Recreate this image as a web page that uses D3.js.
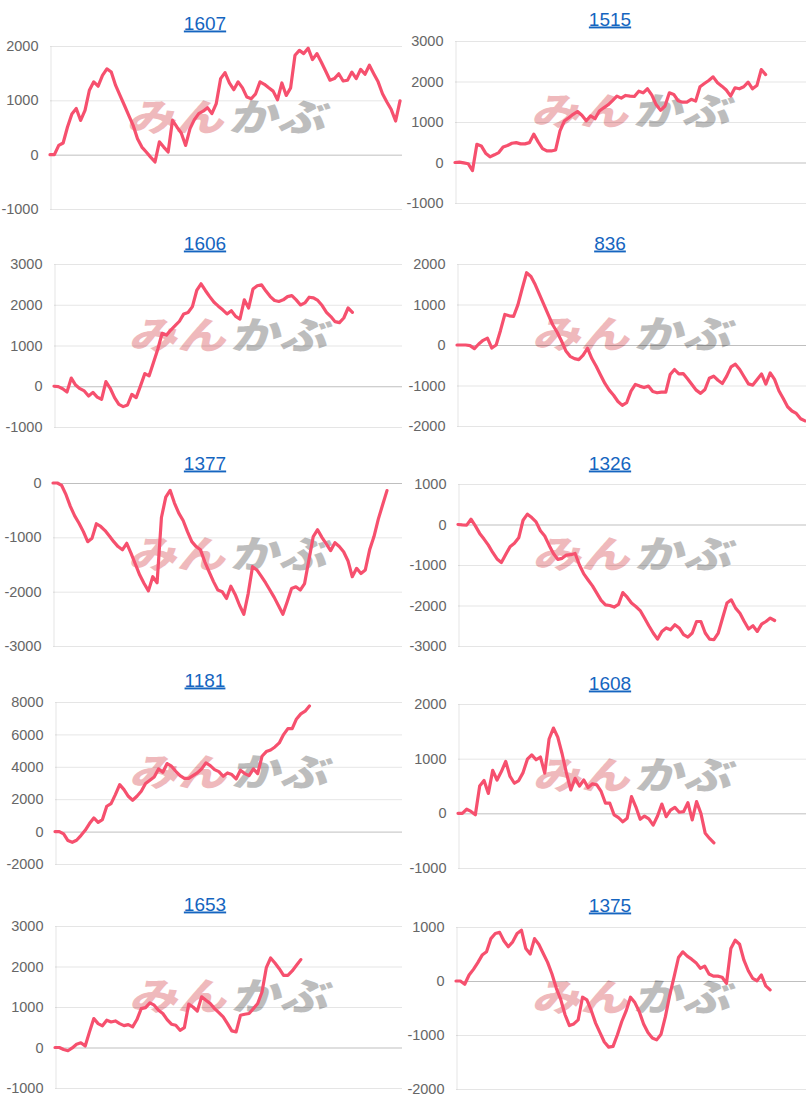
<!DOCTYPE html>
<html><head><meta charset="utf-8">
<script src="https://cdn.jsdelivr.net/npm/d3@7"></script>
<style>html,body{margin:0;padding:0;background:#fff;} svg{display:block}</style>
</head><body>
<svg id="c" width="806" height="1101"></svg>
<script>
// ---------- data ----------
const titles = ["1607","1515","1606","836","1377","1326","1181","1608","1653","1375"];
const xCount = 81; // number of day slots on the x axis

const s1607 = [0,0,170,215,510,750,850,630,815,1185,1340,1260,1460,1580,1520,1275,1090,910,725,540,295,140,50,-45,-135,235,140,50,630,510,400,170,480,645,755,800,865,755,940,1400,1510,1320,1195,1340,1230,1060,1030,1120,1340,1295,1230,1170,1010,1320,1090,1230,1830,1920,1860,1960,1750,1860,1705,1540,1370,1400,1490,1355,1370,1520,1400,1570,1480,1645,1490,1340,1120,970,830,620,990];
const s1515 = [0,10,-10,-30,-200,450,410,230,140,190,245,385,420,475,490,460,460,490,700,510,345,285,285,310,780,1025,1105,1190,1260,1165,1030,1150,1080,1270,1350,1425,1530,1640,1590,1655,1640,1630,1760,1720,1820,1665,1425,1290,1395,1720,1680,1525,1490,1490,1560,1515,1870,1950,2025,2115,1970,1885,1790,1640,1845,1820,1870,1985,1820,1900,2295,2170];
const s1606 = [0,-10,-60,-140,200,30,-60,-115,-240,-150,-265,-320,115,-50,-280,-445,-500,-460,-200,-280,10,310,255,585,910,1300,1255,1380,1485,1595,1775,1810,1955,2350,2515,2350,2200,2060,1965,1875,1775,1855,1715,1650,2120,1920,2385,2465,2490,2335,2200,2105,2080,2120,2200,2225,2120,1995,2045,2185,2170,2105,1980,1815,1710,1585,1560,1675,1920,1815];
const s836 = [0,0,0,-15,-90,25,115,170,-75,0,360,755,720,705,990,1400,1785,1690,1485,1240,990,745,500,320,105,-140,-280,-335,-360,-250,-80,-335,-525,-740,-950,-1115,-1240,-1395,-1490,-1425,-1140,-975,-1015,-1050,-1015,-1150,-1180,-1165,-1165,-730,-605,-715,-705,-835,-975,-1115,-1195,-1100,-820,-770,-870,-950,-770,-540,-475,-605,-785,-960,-990,-850,-715,-965,-690,-850,-1130,-1320,-1525,-1630,-1690,-1820,-1875];
const s1377 = [0,0,-45,-215,-430,-605,-740,-895,-1080,-1015,-750,-800,-875,-975,-1080,-1170,-1230,-1110,-1295,-1495,-1695,-1850,-1985,-1725,-1835,-635,-260,-135,-370,-555,-690,-895,-1080,-1170,-1230,-1450,-1635,-1815,-1970,-2000,-2125,-1900,-2050,-2250,-2415,-2035,-1540,-1600,-1715,-1835,-1970,-2105,-2260,-2415,-2185,-1940,-1910,-1970,-1850,-1415,-985,-860,-1000,-1120,-1245,-1100,-1170,-1265,-1430,-1725,-1570,-1665,-1600,-1230,-985,-665,-400,-140];
const s1326 = [0,-10,-15,130,-35,-220,-360,-510,-690,-850,-940,-740,-550,-465,-330,105,255,170,65,-155,-285,-510,-715,-860,-835,-755,-745,-715,-1000,-1220,-1370,-1515,-1695,-1875,-1985,-2000,-2040,-1975,-1680,-1795,-1940,-2025,-2125,-2310,-2500,-2680,-2830,-2640,-2555,-2600,-2475,-2555,-2720,-2780,-2680,-2395,-2395,-2680,-2830,-2845,-2680,-2310,-1940,-1860,-2065,-2190,-2395,-2580,-2500,-2640,-2460,-2395,-2310,-2370];
const s1181 = [0,0,-145,-555,-660,-535,-245,80,495,845,575,740,1565,1730,2285,2900,2590,2180,1935,2180,2490,2965,3170,3375,3870,3660,4200,4035,3725,3455,3290,3290,3455,3620,3870,4240,4075,3825,3700,3415,3620,3520,3250,3785,3580,3455,3870,3580,4650,4940,5040,5225,5475,5990,6360,6360,6955,7265,7430,7750];
const s1608 = [0,0,75,35,-25,500,600,365,785,610,765,950,675,550,600,745,990,1070,980,1030,735,1360,1560,1395,1090,735,430,640,500,610,470,540,520,400,185,185,-30,-80,-155,-90,305,120,-110,-50,-100,-215,-50,170,-60,60,110,20,30,195,-120,215,0,-365,-460,-540];
const s1653 = [0,0,-50,-80,-10,80,115,35,385,715,590,535,675,630,655,590,540,565,510,690,960,985,1100,1045,920,840,690,575,550,425,490,1070,1000,900,1250,1165,1085,960,860,755,590,410,385,795,820,840,960,1085,1370,1970,2210,2085,1945,1780,1780,1890,2030,2170];
const s1375 = [0,0,-60,110,215,340,480,540,785,880,900,740,635,725,880,940,600,500,785,675,510,345,130,-135,-340,-625,-825,-795,-720,-300,-350,-545,-780,-955,-1130,-1225,-1210,-995,-750,-555,-300,-400,-565,-795,-955,-1055,-1090,-985,-660,-260,80,435,540,460,405,340,235,275,130,90,90,70,-45,600,755,680,385,190,50,5,110,-90,-165];

const t1607 = [-1000,0,1000,2000];
const t1515 = [-1000,0,1000,2000,3000];
const t1606 = [-1000,0,1000,2000,3000];
const t836  = [-2000,-1000,0,1000,2000];
const t1377 = [-3000,-2000,-1000,0];
const t1326 = [-3000,-2000,-1000,0,1000];
const t1181 = [-2000,0,2000,4000,6000,8000];
const t1608 = [-1000,0,1000,2000];
const t1653 = [-1000,0,1000,2000,3000];
const t1375 = [-2000,-1000,0,1000];

const seriesList = [s1607,s1515,s1606,s836,s1377,s1326,s1181,s1608,s1653,s1375];
const tickList = [t1607,t1515,t1606,t836,t1377,t1326,t1181,t1608,t1653,t1375];

// ---------- layout (separate from data) ----------
const layout = [
  {col:0, title:22,  top:46,  bottom:209,  axis:50},
  {col:1, title:18,  top:41,  bottom:203,  axis:455},
  {col:0, title:242, top:264, bottom:427,  axis:54},
  {col:1, title:242, top:264, bottom:426,  axis:457},
  {col:0, title:462, top:483, bottom:646,  axis:53},
  {col:1, title:462, top:484, bottom:646,  axis:458},
  {col:0, title:679, top:702, bottom:864,  axis:55},
  {col:1, title:682, top:704, bottom:868,  axis:458},
  {col:0, title:903, top:926, bottom:1088, axis:55},
  {col:1, title:904, top:927, bottom:1089, axis:456}
];
const colInfo = [
  {titleX:205, dataEnd:400, gridEnd:402},
  {titleX:610, dataEnd:805, gridEnd:806}
];
const FONT = "Arial, 'Liberation Sans', Helvetica, sans-serif";

const svg = d3.select("#c");

layout.forEach((L, k) => {
  const C = colInfo[L.col];
  const data = seriesList[k];
  const ticks = tickList[k];
  const g = svg.append("g");

  const x = d3.scaleLinear().domain([0, xCount - 1]).range([L.axis, C.dataEnd]);
  const y = d3.scaleLinear().domain(d3.extent(ticks)).range([L.bottom, L.top]);

  // title
  g.append("text")
    .attr("x", C.titleX).attr("y", L.title + 7.5)
    .attr("text-anchor", "middle")
    .attr("fill", "#1565c0")
    .attr("text-decoration", "underline")
    .style("font-family", FONT).style("font-size", "19px")
    .text(titles[k]);

  // watermark
  const cx = (L.axis + C.gridEnd) / 2, cy = (L.top + L.bottom) / 2 - 10;
  const wm = g.append("g")
    .attr("transform", `translate(${cx},${cy + 13}) skewX(-14) scale(1.13,0.88)`)
    .style("font-family", "'Noto Sans CJK JP', sans-serif")
    .style("font-weight", "900").style("font-size", "43px");
  wm.append("text").attr("x", -2).attr("text-anchor", "end").attr("fill", "#efb9bc").text("みん");
  wm.append("text").attr("x", 2).attr("text-anchor", "start").attr("fill", "#bdbdbd").text("かぶ");

  // grid
  g.append("g").selectAll("line").data(ticks).join("line")
    .attr("x1", L.axis).attr("x2", C.gridEnd)
    .attr("y1", d => y(d) + 0.5).attr("y2", d => y(d) + 0.5)
    .attr("stroke", d => d === 0 ? "rgba(0,0,0,0.25)" : "rgba(0,0,0,0.1)")
    .attr("stroke-width", 1);

  // y axis
  const ax = g.append("g").attr("transform", `translate(${L.axis + 0.5},0)`)
    .call(d3.axisLeft(y).tickValues(ticks).tickSize(0).tickPadding(12).tickFormat(d => String(d)));
  ax.select(".domain").attr("stroke", "rgba(0,0,0,0.1)");
  ax.selectAll("text").attr("fill", "#666")
    .style("font-family", FONT).style("font-size", "14.5px");

  // line
  const line = d3.line().x((d, i) => x(i)).y(d => y(d));
  g.append("path").datum(data)
    .attr("d", line)
    .attr("fill", "none")
    .attr("stroke", "#f6506e")
    .attr("stroke-width", 3.2)
    .attr("stroke-linejoin", "round")
    .attr("stroke-linecap", "round");
});
</script>
</body></html>
